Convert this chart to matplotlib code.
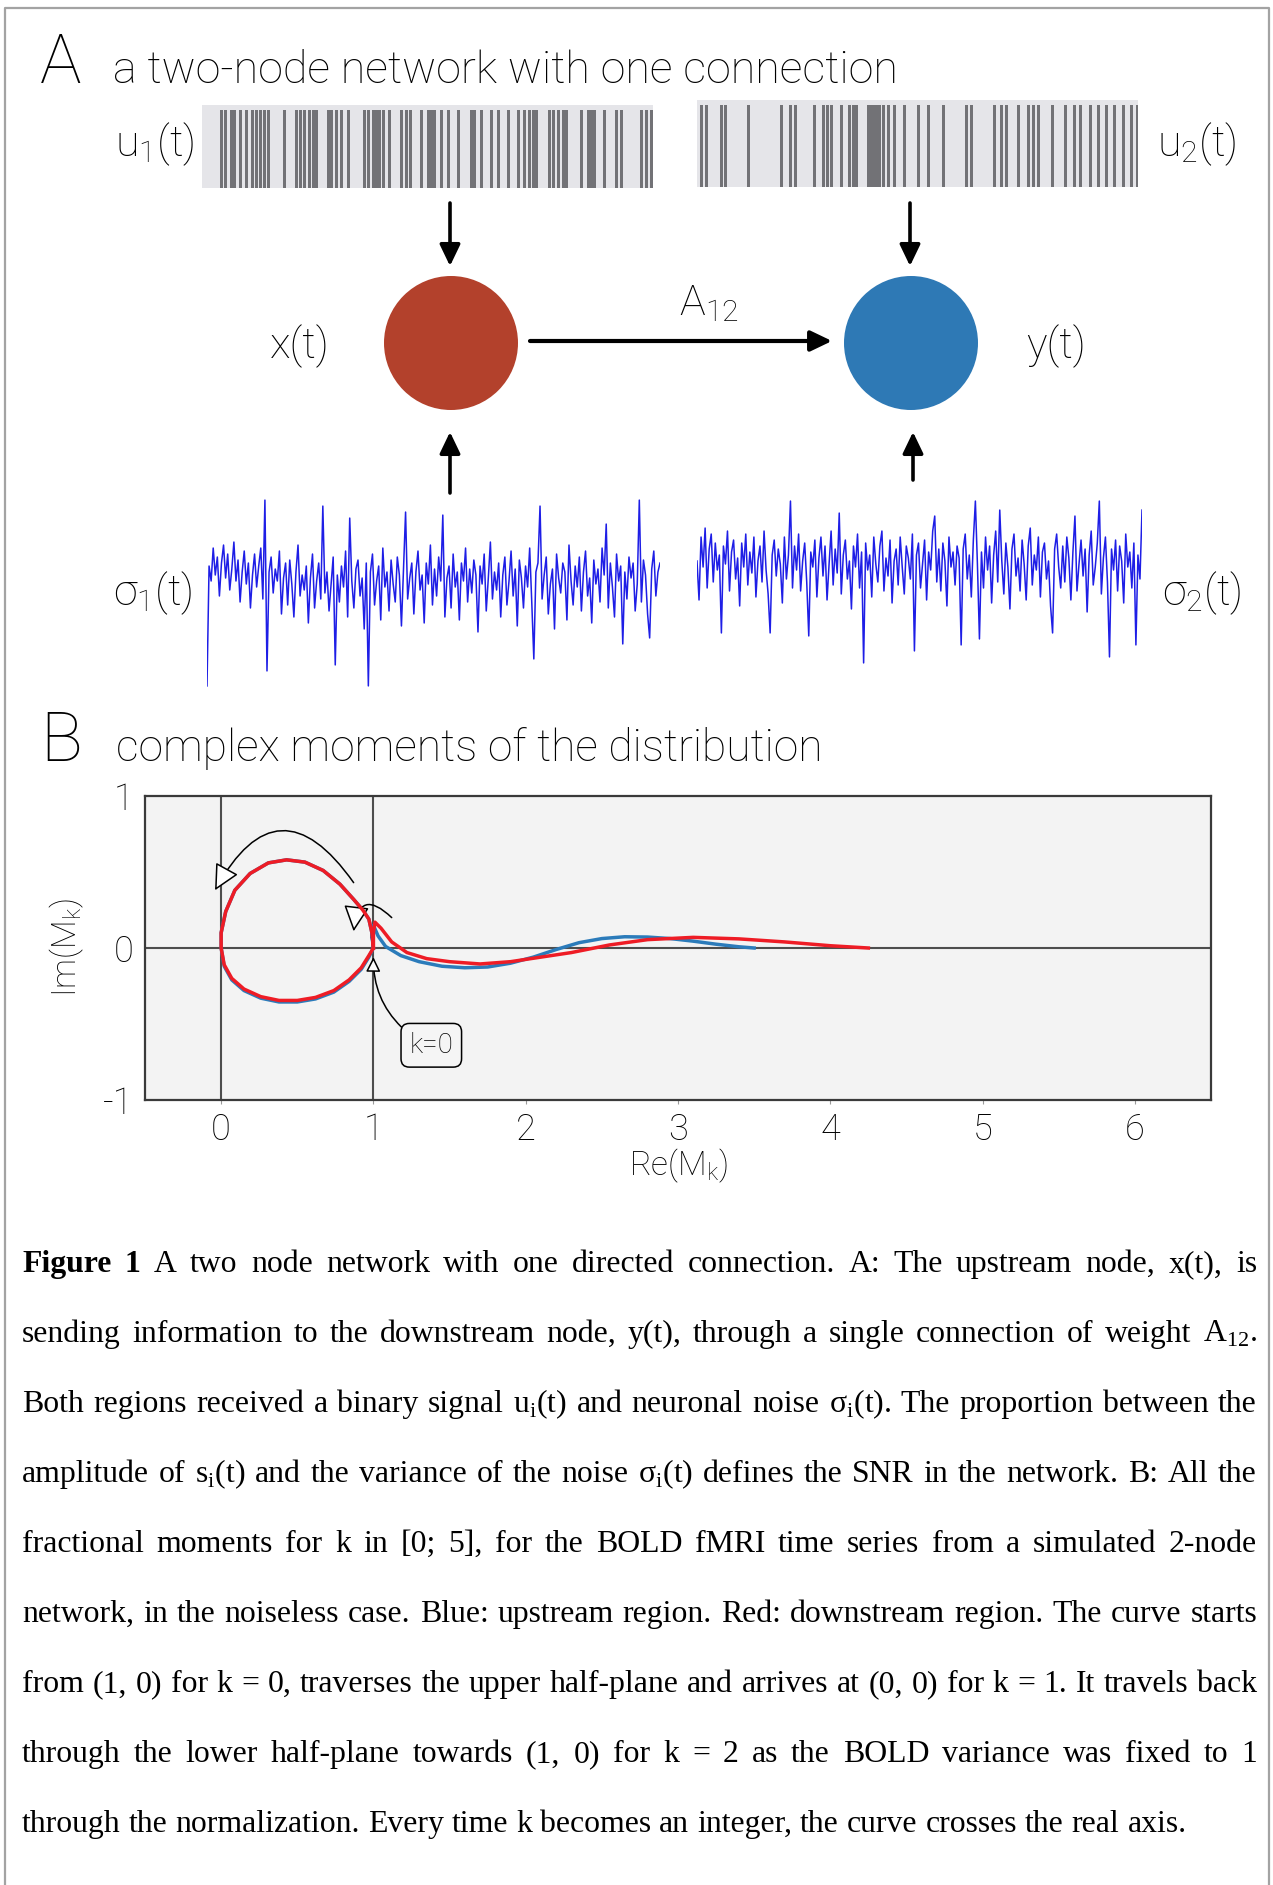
import matplotlib
matplotlib.use('Agg')
import numpy as np
import matplotlib.pyplot as plt
from matplotlib.patches import Circle

plt.rcParams['font.family'] = ['Roboto', 'DejaVu Sans']
plt.rcParams['font.weight'] = 'light'
plt.rcParams['axes.unicode_minus'] = False

# binary inputs u1(t), u2(t): onsets of the "on" samples
u1_on = [18, 22, 28, 31, 37, 43, 49, 53, 57, 61, 65, 81, 93, 97, 101, 106, 110, 113,
         125, 128, 133, 138, 145, 161, 165, 170, 173, 176, 180, 186, 198, 203, 207,
         218, 225, 228, 231, 238, 245, 255, 268, 271, 278, 288, 295, 305, 315, 321,
         326, 330, 333, 346, 350, 355, 360, 363, 378, 385, 388, 391, 401, 413, 418,
         438, 443, 448]
u1_len = 451
u2_on = [3, 8, 23, 27, 50, 83, 92, 97, 116, 125, 129, 133, 143, 151, 155, 158, 170,
         173, 176, 178, 181, 185, 190, 196, 206, 220, 230, 245, 268, 273, 296, 303,
         308, 320, 330, 335, 340, 354, 367, 376, 382, 392, 400, 408, 416, 425, 433, 439]
u2_len = 441

# neuronal noise sigma1(t), sigma2(t), in tenths
noise1 = [-32, 8, 3, 14, 5, 11, -2, 9, 15, 4, 12, 0, 7, 16, 3, 10, -4, 6, 13, 2,
          9, -6, 5, 12, 1, 8, 14, -3, 30, -27, 6, 11, -1, 7, 3, 13, -8, 4, 9, -5,
          10, 2, -9, 6, 15, -2, 5, 0, 8, -11, 4, 12, -6, 3, 9, -3, 28, -1, 6, -7,
          2, 11, -25, 5, -4, 8, 1, 13, -9, 24, 3, -6, 7, 10, -2, 4, -13, 9, -32, 6,
          12, -5, 3, 8, -10, 14, 1, 6, -7, 10, 2, -4, 11, 5, -12, 7, 26, -3, 4, 9,
          -8, 6, 13, 0, 5, -11, 9, 2, 15, -5, 7, -2, 11, 3, 25, -9, 4, 8, -6, 12,
          1, 6, -10, 9, 3, 14, -4, 7, -1, 10, 5, -14, 8, 2, 12, -7, 4, 16, -3, 6,
          0, 9, -9, 5, 11, -5, 3, 13, -2, 7, -12, 10, 4, -6, 8, 1, 14, -4, -23, 6,
          9, 28, -3, 5, 11, -8, 2, 7, -13, 12, 4, -1, 9, 6, -10, 15, 3, -5, 8, 1,
          11, -7, 6, 13, -2, 4, -11, 10, 2, 7, -4, 14, 5, 22, -6, 9, 1, -9, 12, 3,
          8, -18, 6, -3, 11, 4, 9, -7, 2, 30, -4, 10, 5, -8, -16, 7, 13, -2, 6, 9]
noise2 = [4, -9, 12, 2, 15, -5, 8, 13, -3, 10, 1, 6, -20, 9, 3, 14, -6, 7, 11, -2,
          5, -11, 10, 2, 13, -4, 7, 0, 12, -8, 4, 9, -3, 14, 1, -7, -20, 6, 11, -1,
          8, 3, -10, 12, -2, 6, 24, -5, 9, 1, 13, -6, 4, 10, -3, -21, 7, 2, 11, -8,
          5, 12, -1, 9, -9, 3, 14, -4, 8, 0, 20, -7, 6, 11, -2, 4, -12, 9, 2, 13,
          -5, 7, -30, 10, 1, 6, -8, 12, 3, -3, 9, 14, -6, 5, -1, 11, -10, 4, 8, -4,
          12, 2, -7, 9, 5, -2, 13, -26, 6, 10, -5, 3, 11, -9, 7, 1, 14, 19, -3, 8,
          -6, 10, 4, -11, 12, 2, 7, -4, 9, 5, -24, 8, 13, -2, 6, -8, 11, 24, 3, -22,
          7, -5, 12, 1, 9, -10, 6, 14, -3, 21, 4, -7, 10, 2, -12, 8, 13, -1, 5, -6,
          11, 3, -9, 9, 15, -4, 6, 1, 12, -8, 7, 10, -2, 4, -11, -20, 8, 13, 2, -5,
          9, -3, 12, 5, -9, 7, 19, -6, 3, 11, -1, 8, -13, 6, 14, -4, 2, 10, 24, -7,
          5, 12, -3, -28, 8, 1, 11, -6, 9, 4, -10, 13, 2, 7, -5, 10, -24, 6, -2, 21]

# complex moments M_k for k in [0, 5]
blue_re = [1.00, 0.99, 0.97, 0.93, 0.87, 0.78, 0.67, 0.55, 0.43, 0.31,
           0.19, 0.09, 0.03, 0.00, 0.00, 0.02, 0.07, 0.15, 0.26, 0.38,
           0.50, 0.62, 0.74, 0.84, 0.92, 0.97, 1.00, 0.99, 1.00, 1.03,
           1.08, 1.18, 1.30, 1.45, 1.60, 1.75, 1.90, 2.05, 2.20, 2.35,
           2.50, 2.65, 2.80, 2.95, 3.10, 3.25, 3.40, 3.50]
blue_im = [0.00, 0.10, 0.19, 0.25, 0.32, 0.42, 0.51, 0.565, 0.58, 0.56,
           0.49, 0.38, 0.24, 0.10, 0.00, -0.12, -0.21, -0.28, -0.33, -0.355,
           -0.355, -0.335, -0.29, -0.22, -0.14, -0.06, 0.00, 0.08, 0.15, 0.08,
           0.01, -0.05, -0.09, -0.12, -0.13, -0.125, -0.10, -0.06, -0.01, 0.035,
           0.062, 0.074, 0.072, 0.062, 0.045, 0.025, 0.008, 0.00]
red_re = [1.00, 0.99, 0.97, 0.93, 0.87, 0.78, 0.67, 0.55, 0.43, 0.31,
          0.19, 0.09, 0.03, 0.00, 0.00, 0.02, 0.07, 0.15, 0.26, 0.38,
          0.50, 0.62, 0.74, 0.84, 0.92, 0.97, 1.00, 1.00, 1.01, 1.05,
          1.12, 1.22, 1.35, 1.50, 1.70, 1.90, 2.10, 2.30, 2.55, 2.80,
          3.10, 3.40, 3.70, 4.00, 4.25]
red_im = [0.00, 0.10, 0.19, 0.25, 0.32, 0.42, 0.51, 0.565, 0.58, 0.56,
          0.49, 0.38, 0.24, 0.10, 0.00, -0.11, -0.20, -0.27, -0.32, -0.345,
          -0.345, -0.325, -0.28, -0.21, -0.13, -0.05, 0.00, 0.10, 0.17, 0.13,
          0.04, -0.03, -0.07, -0.09, -0.105, -0.09, -0.06, -0.03, 0.02, 0.055,
          0.07, 0.06, 0.04, 0.015, 0.00]

xticks = [0, 1, 2, 3, 4, 5, 6]
yticks = [-1, 0, 1]
ytick_labels = ['-1', '0', '1']

caption = [
    "Figure 1 A two node network with one directed connection. A: The upstream node, x(t), is",
    r"sending information to the downstream node, y(t), through a single connection of weight A$_\mathregular{12}$.",
    r"Both regions received a binary signal u$_\mathregular{i}$(t) and neuronal noise σ$_\mathregular{i}$(t). The proportion between the",
    r"amplitude of s$_\mathregular{i}$(t) and the variance of the noise σ$_\mathregular{i}$(t) defines the SNR in the network. B: All the",
    "fractional moments for k in [0; 5], for the BOLD fMRI time series from a simulated 2-node",
    "network, in the noiseless case. Blue: upstream region. Red: downstream region. The curve starts",
    "from (1, 0) for k = 0, traverses the upper half-plane and arrives at (0, 0) for k = 1. It travels back",
    "through the lower half-plane towards (1, 0) for k = 2 as the BOLD variance was fixed to 1",
    "through the normalization. Every time k becomes an integer, the curve crosses the real axis.",
]

W, H = 1273, 1885
SERIF = ['Liberation Serif', 'DejaVu Serif']
RED_NODE = '#b3412c'
BLUE_NODE = '#2e79b5'
NOISE_C = '#1e1ee6'
LABEL = 31

fig = plt.figure(figsize=(W / 100, H / 100), dpi=100)
rend = fig.canvas.get_renderer()

# full-page layer in pixel units (y down)
lay = fig.add_axes([0, 0, 1, 1])
lay.set_xlim(0, W)
lay.set_ylim(H, 0)
lay.axis('off')


def px_axes(x0, y0, x1, y1):
    return fig.add_axes([x0 / W, 1 - y1 / H, (x1 - x0) / W, (y1 - y0) / H])


def width_of(t):
    return t.get_window_extent(rend).width


def fitted(x, y, s, width, size0=30, **kw):
    t = lay.text(x, y, s, fontsize=size0, va='baseline', **kw)
    t.set_fontsize(size0 * width / width_of(t))
    return t


def arrow(x0, y0, x1, y1, lw=2.6):
    lay.annotate('', xy=(x1, y1), xytext=(x0, y0),
                 arrowprops=dict(arrowstyle='-|>,head_length=0.5,head_width=0.24',
                                 lw=lw, color='k', mutation_scale=26,
                                 shrinkA=0, shrinkB=0))


# frame round the figure
lay.plot([5, 5, 1269, 1269], [H, 8, 8, H], color='#a3a3a3', lw=1.6)

# ---- panel A ----
lay.text(40, 83, 'A', fontsize=50, va='baseline')
fitted(113, 83, 'a two-node network with one connection', 784)

for (x0, y0, x1, y1), on, n in [((202, 105, 653, 188), u1_on, u1_len),
                                ((697, 100, 1138, 187), u2_on, u2_len)]:
    bax = px_axes(x0, y0, x1, y1)
    bax.set_facecolor('#e5e5e9')
    bax.bar(on, 1.0, width=2.7, align='edge', color='#727276', lw=0)
    bax.set_xlim(0, n)
    bax.set_ylim(0, 1.06)
    bax.set_xticks([])
    bax.set_yticks([])
    for sp in bax.spines.values():
        sp.set_visible(False)

lay.text(115, 156, r'u$_\mathregular{1}$(t)', fontsize=LABEL, va='baseline')
lay.text(1157, 156, r'u$_\mathregular{2}$(t)', fontsize=LABEL, va='baseline')

arrow(450, 203, 450, 266)
arrow(910, 203, 910, 266)
arrow(450, 493, 450, 432)
arrow(913, 480, 913, 432)

lay.add_patch(Circle((451, 343), 67, color=RED_NODE, lw=0))
lay.add_patch(Circle((911, 343), 67, color=BLUE_NODE, lw=0))
arrow(530, 341, 832, 341, lw=3.0)

lay.text(270, 358, 'x(t)', fontsize=LABEL, va='baseline')
lay.text(1026, 358, 'y(t)', fontsize=LABEL, va='baseline')
lay.text(679, 315, r'A$_\mathregular{12}$', fontsize=LABEL, va='baseline')
lay.text(113, 605, r'σ$_\mathregular{1}$(t)', fontsize=LABEL, va='baseline')
lay.text(1162, 605, r'σ$_\mathregular{2}$(t)', fontsize=LABEL, va='baseline')

for (x0, y0, x1, y1), sig in [((207, 480, 660, 700), noise1),
                              ((697, 463, 1142, 683), noise2)]:
    nax = px_axes(x0, y0, x1, y1)
    nax.plot(np.arange(len(sig)), sig, color=NOISE_C, lw=1.1)
    nax.set_xlim(0, len(sig) - 1)
    nax.set_ylim(-36.7, 36.7)
    nax.axis('off')

# ---- panel B ----
lay.text(40, 761, 'B', fontsize=50, va='baseline')
fitted(116, 761, 'complex moments of the distribution', 706)

ax = px_axes(145, 796, 1211, 1100)
ax.set_facecolor('#f3f3f3')
ax.axvline(0, color='#4d4d4d', lw=1.5, zorder=1)
ax.axvline(1, color='#4d4d4d', lw=1.5, zorder=1)
ax.axhline(0, color='#4d4d4d', lw=1.5, zorder=1)
ax.plot(blue_re, blue_im, color='#2b7bba', lw=2.5, zorder=3)
ax.plot(red_re, red_im, color='#ee1c25', lw=2.5, zorder=4)
ax.set_xlim(-0.5, 6.5)
ax.set_ylim(-1, 1)
ax.set_xticks(xticks)
ax.set_yticks(yticks)
ax.set_yticklabels(ytick_labels)
ax.tick_params(axis='x', length=3, color='#9a9a9a', pad=5.5, labelsize=26)
ax.tick_params(axis='y', length=0, pad=8, labelsize=26)
for sp in ax.spines.values():
    sp.set_color('#3a3a3a')
    sp.set_linewidth(1.6)

head = dict(fc='white', ec='black', lw=1.1, shrinkA=0, shrinkB=0)
ax.annotate('', xy=(-0.04, 0.38), xytext=(0.87, 0.43),
            arrowprops=dict(arrowstyle='-|>,head_length=0.5,head_width=0.25',
                            connectionstyle='arc3,rad=0.8', mutation_scale=32, **head))
ax.annotate('', xy=(0.87, 0.11), xytext=(1.12, 0.20),
            arrowprops=dict(arrowstyle='-|>,head_length=0.5,head_width=0.25',
                            connectionstyle='arc3,rad=1.0', mutation_scale=32, **head))
ax.annotate('k=0', xy=(1.0, -0.06), xytext=(1.38, -0.64), fontsize=20,
            ha='center', va='center',
            bbox=dict(boxstyle='round,pad=0.3', fc='#f5f5f5', ec='black', lw=1.1),
            arrowprops=dict(arrowstyle='-|>,head_length=0.4,head_width=0.2',
                            connectionstyle='arc3,rad=-0.25', mutation_scale=22,
                            relpos=(0.05, 0.85), **head))

lay.text(678, 1175, r'Re(M$_\mathregular{k}$)', fontsize=24, ha='center', va='baseline')
lay.text(67, 948, r'Im(M$_\mathregular{k}$)', fontsize=24, rotation=90,
         ha='center', va='center')

# ---- caption, justified, double spaced ----
CAP_X0, CAP_X1 = 22, 1257
probe = lay.text(0, 0, caption[-1], fontsize=20, family=SERIF, weight='normal')
cap_size = 20 * 1163 / width_of(probe)
probe.remove()
sp_a = lay.text(0, 0, 'a a', fontsize=cap_size, family=SERIF, weight='normal')
sp_b = lay.text(0, 0, 'aa', fontsize=cap_size, family=SERIF, weight='normal')
space = width_of(sp_a) - width_of(sp_b)
sp_a.remove()
sp_b.remove()

for i, line in enumerate(caption):
    y = 1272 + i * 70
    words = line.split(' ')
    arts = []
    for j, w in enumerate(words):
        bold = (i == 0 and j < 2)
        arts.append(lay.text(0, y, w, fontsize=cap_size, family=SERIF,
                             weight='bold' if bold else 'normal', va='baseline'))
    widths = [width_of(t) for t in arts]
    if i < len(caption) - 1:
        gap = (CAP_X1 - CAP_X0 - sum(widths)) / (len(words) - 1)
    else:
        gap = space
    x = CAP_X0
    for t, w in zip(arts, widths):
        t.set_x(x)
        x += w + gap

fig.savefig('out.png', dpi=100, facecolor='white')
